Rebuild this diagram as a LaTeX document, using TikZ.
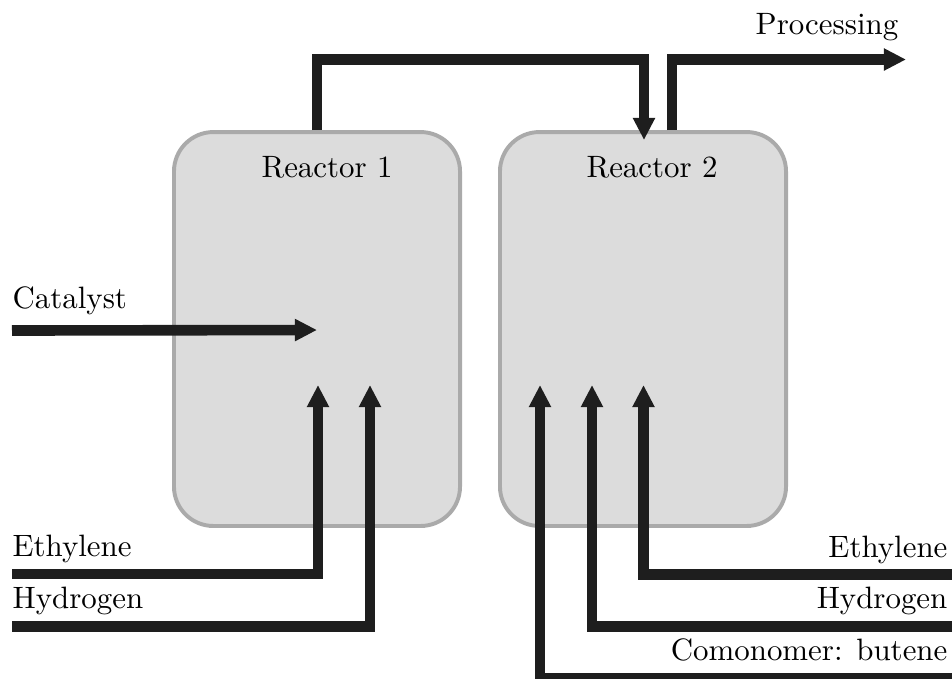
\documentclass[tikz,border=0pt]{standalone}
\usepackage{xcolor}
\usepackage{tikz}
\usetikzlibrary{arrows.meta, positioning, calc}
\definecolor{pipecolor}{RGB}{30, 30, 30}
\definecolor{tankfill}{RGB}{220, 220, 220}
\definecolor{tankedge}{RGB}{170, 170, 170}
\tikzstyle{reactor} = [
    rectangle,
    rounded corners=13pt,
    minimum width=94.4pt,
    minimum height=130pt,
    draw=tankedge,
    fill=tankfill,
    line width=1.3pt
]
\tikzstyle{pipe} = [
    line width=3.5pt,
    draw=pipecolor,
    -{Triangle[length=7.3pt, width=6.9pt]}
]
\tikzstyle{lbl} = [inner sep=0pt, font=\fontsize{10.2pt}{12pt}\selectfont]

\begin{document}
\begin{tikzpicture}[x=0.33pt, y=-0.33pt]
        \useasboundingbox (0,0) rectangle (952,678);

        % Reactors
        \node[reactor] (r1) at (317,329) {};
        \node[reactor] (r2) at (643,329) {};
        \node[lbl] (r1name) at (327,167) {Reactor 1};
        \node[lbl] (r2name) at (652,167) {Reactor 2};

        % Feed points inside the reactors
        \coordinate (r1cat) at (317,330);
        \coordinate (r1eth) at (318,385);
        \coordinate (r1hyd) at (370,385);
        \coordinate (r2but) at (540,385);
        \coordinate (r2hyd) at (592,385);
        \coordinate (r2eth) at (643.5,385);
        \coordinate (r2top) at (644,140);

        % Free ends
        \coordinate (catin) at (12,330.5);
        \coordinate (eth1in) at (12,574);
        \coordinate (hyd1in) at (12,626.5);
        \coordinate (eth2in) at (952,574.5);
        \coordinate (hyd2in) at (952,626.5);
        \coordinate (butin) at (952,678);
        \coordinate (bridge) at (480,59.5);
        \coordinate (out) at (906,59.5);

        % Labels
        \node[lbl, anchor=base west] (catname) at (12,308) {Catalyst};
        \node[lbl, anchor=base west] (eth1name) at (12,556) {Ethylene};
        \node[lbl, anchor=base west] (hyd1name) at (12,608) {Hydrogen};
        \node[lbl, anchor=base east] (eth2name) at (948,557) {Ethylene};
        \node[lbl, anchor=base east] (hyd2name) at (948,608) {Hydrogen};
        \node[lbl, anchor=base east] (butname) at (948,660) {Comonomer: butene};
        \node[lbl] (outname) at (827,27) {Processing};

        % Arrows
        \draw[pipe] (catin) -- (r1cat);
        \draw[pipe] (eth1in) -| (r1eth);
        \draw[pipe] (hyd1in) -| (r1hyd);
        \draw[pipe] (eth2in) -| (r2eth);
        \draw[pipe] (hyd2in) -| (r2hyd);
        \draw[pipe] (butin) -| (r2but);
        \draw[pipe] (r1.north) |- (bridge) -| (r2top);
        \draw[pipe] ([xshift=9.6pt]r2.north) |- (out);
    \end{tikzpicture}
\end{document}
